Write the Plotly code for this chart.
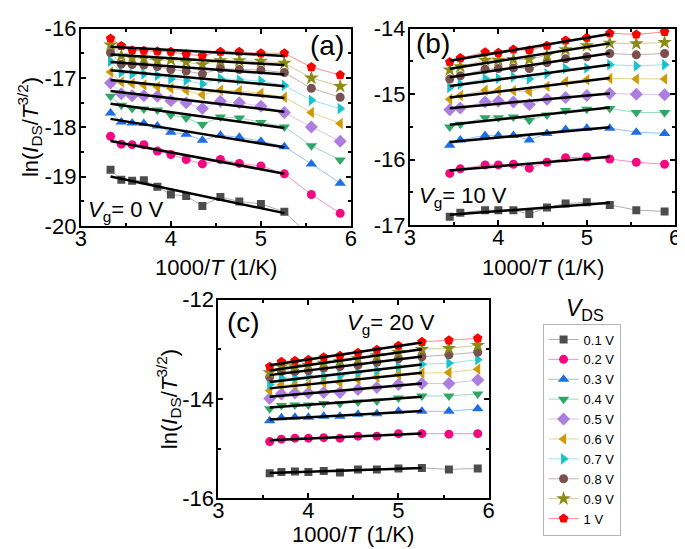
import numpy as np
import plotly.graph_objects as go

# ---------------- data ----------------
x_a = [3.33, 3.45, 3.57, 3.70, 3.85, 4.00, 4.17, 4.35, 4.55, 4.76, 5.00, 5.26, 5.56, 5.88]
x_b = [3.45, 3.57, 3.85, 4.00, 4.17, 4.35, 4.55, 4.76, 5.00, 5.26, 5.56, 5.88]
x_c = [3.57, 3.70, 3.85, 4.00, 4.17, 4.35, 4.55, 4.76, 5.00, 5.26, 5.56, 5.88]

vds_labels = ["0.1 V", "0.2 V", "0.3 V", "0.4 V", "0.5 V", "0.6 V", "0.7 V", "0.8 V", "0.9 V", "1 V"]

# Vg = 0 V
a_01 = [-18.86, -19.06, -19.08, -19.07, -19.20, -19.36, -19.39, -19.59, -19.41, -19.50, -19.55, -19.71, -20.23, -20.60]
a_02 = [-18.18, -18.34, -18.35, -18.35, -18.48, -18.55, -18.65, -18.74, -18.65, -18.73, -18.78, -18.94, -19.36, -19.74]
a_03 = [-17.71, -17.89, -17.91, -17.92, -17.97, -18.10, -18.14, -18.26, -18.16, -18.20, -18.28, -18.39, -18.74, -19.13]
a_04 = [-17.37, -17.55, -17.62, -17.63, -17.65, -17.75, -17.81, -17.94, -17.79, -17.81, -17.90, -17.99, -18.37, -18.66]
a_05 = [-17.10, -17.32, -17.36, -17.36, -17.37, -17.46, -17.50, -17.62, -17.47, -17.50, -17.57, -17.70, -17.99, -18.28]
a_06 = [-16.88, -17.08, -17.11, -17.14, -17.18, -17.21, -17.25, -17.34, -17.25, -17.26, -17.31, -17.39, -17.70, -17.92]
a_07 = [-16.66, -16.89, -16.92, -16.92, -16.95, -17.02, -17.05, -17.12, -17.01, -17.04, -17.06, -17.15, -17.45, -17.62]
a_08 = [-16.49, -16.72, -16.73, -16.74, -16.77, -16.83, -16.86, -16.92, -16.81, -16.83, -16.84, -16.89, -17.21, -17.39]
a_09 = [-16.33, -16.55, -16.59, -16.60, -16.65, -16.63, -16.68, -16.73, -16.65, -16.65, -16.66, -16.70, -17.00, -17.17]
a_10 = [-16.20, -16.35, -16.44, -16.45, -16.46, -16.47, -16.52, -16.55, -16.47, -16.47, -16.50, -16.50, -16.78, -16.94]

# Vg = 10 V
b_01 = [-16.87, -16.81, -16.77, -16.77, -16.77, -16.83, -16.73, -16.67, -16.65, -16.69, -16.77, -16.79]
b_02 = [-16.21, -16.14, -16.08, -16.08, -16.07, -16.13, -16.04, -15.97, -15.96, -15.99, -16.04, -16.07]
b_03 = [-15.78, -15.70, -15.63, -15.63, -15.63, -15.70, -15.60, -15.54, -15.52, -15.52, -15.58, -15.60]
b_04 = [-15.50, -15.46, -15.36, -15.36, -15.35, -15.40, -15.32, -15.25, -15.23, -15.22, -15.28, -15.28]
b_05 = [-15.24, -15.21, -15.12, -15.11, -15.12, -15.16, -15.08, -15.05, -15.02, -14.99, -15.00, -15.01]
b_06 = [-15.08, -15.02, -14.94, -14.94, -14.95, -14.96, -14.88, -14.81, -14.78, -14.76, -14.77, -14.77]
b_07 = [-14.90, -14.85, -14.76, -14.76, -14.74, -14.77, -14.69, -14.61, -14.60, -14.55, -14.57, -14.55]
b_08 = [-14.77, -14.72, -14.62, -14.61, -14.60, -14.61, -14.52, -14.46, -14.43, -14.38, -14.40, -14.38]
b_09 = [-14.63, -14.58, -14.48, -14.48, -14.47, -14.47, -14.41, -14.32, -14.26, -14.22, -14.23, -14.21]
b_10 = [-14.51, -14.45, -14.36, -14.37, -14.32, -14.33, -14.26, -14.18, -14.14, -14.07, -14.09, -14.05]

# Vg = 20 V
c_01 = [-15.50, -15.47, -15.46, -15.47, -15.45, -15.48, -15.42, -15.42, -15.40, -15.39, -15.42, -15.40]
c_02 = [-14.86, -14.81, -14.79, -14.79, -14.78, -14.79, -14.75, -14.75, -14.70, -14.70, -14.71, -14.70]
c_03 = [-14.44, -14.38, -14.37, -14.37, -14.35, -14.35, -14.31, -14.30, -14.25, -14.25, -14.25, -14.20]
c_04 = [-14.20, -14.13, -14.12, -14.12, -14.09, -14.09, -14.06, -14.04, -13.98, -13.94, -13.94, -13.90]
c_05 = [-13.99, -13.90, -13.88, -13.88, -13.87, -13.87, -13.81, -13.77, -13.71, -13.69, -13.69, -13.62]
c_06 = [-13.83, -13.72, -13.72, -13.71, -13.67, -13.67, -13.61, -13.56, -13.51, -13.48, -13.47, -13.40]
c_07 = [-13.71, -13.58, -13.58, -13.54, -13.54, -13.53, -13.47, -13.42, -13.35, -13.30, -13.28, -13.21]
c_08 = [-13.56, -13.45, -13.45, -13.43, -13.38, -13.35, -13.32, -13.26, -13.19, -13.15, -13.11, -13.06]
c_09 = [-13.47, -13.35, -13.35, -13.32, -13.28, -13.24, -13.19, -13.13, -13.06, -13.00, -12.98, -12.92]
c_10 = [-13.35, -13.25, -13.23, -13.21, -13.16, -13.13, -13.07, -13.01, -12.93, -12.85, -12.82, -12.78]

fit_xmax = 5.27  # fits use the points up to 190 K

# ---------------- styles ----------------
colors = ["#4d4d4d", "#f5077f", "#1d6fe3", "#2fa866", "#ab7ee0",
          "#cf9a05", "#18c4c9", "#7a5050", "#8b8b16", "#ff0000"]
symbols = ["square", "circle", "triangle-up", "triangle-down", "diamond",
           "triangle-left", "triangle-right", "circle", "star", "pentagon"]
sizes = [8, 9, 10, 10, 10, 10, 10, 9, 11, 10]


def pale(hexc, a=0.45):
    h = hexc.lstrip("#")
    r, g, b = int(h[0:2], 16), int(h[2:4], 16), int(h[4:6], 16)
    return f"rgba({r},{g},{b},{a})"


FONT = "Liberation Sans, Arial, sans-serif"
fig = go.Figure()

panels = [
    ("x", "y", x_a, [a_01, a_02, a_03, a_04, a_05, a_06, a_07, a_08, a_09, a_10], True),
    ("x2", "y2", x_b, [b_01, b_02, b_03, b_04, b_05, b_06, b_07, b_08, b_09, b_10], False),
    ("x3", "y3", x_c, [c_01, c_02, c_03, c_04, c_05, c_06, c_07, c_08, c_09, c_10], False),
]

for xa, ya, xs, series, show in panels:
    for i, ys in enumerate(series):
        fig.add_trace(go.Scatter(
            x=xs, y=ys, xaxis=xa, yaxis=ya, mode="lines+markers",
            name=vds_labels[i], showlegend=show, legendgroup=vds_labels[i],
            line=dict(color=pale(colors[i]), width=1),
            marker=dict(symbol=symbols[i], size=sizes[i], color=colors[i], line=dict(width=0)),
        ))
    for i, ys in enumerate(series):
        xf = np.array([x for x in xs if x <= fit_xmax])
        yf = np.array(ys[:len(xf)])
        p = np.polyfit(xf, yf, 1)
        xe = np.array([xf[0], xf[-1]])
        fig.add_trace(go.Scatter(
            x=xe, y=np.polyval(p, xe), xaxis=xa, yaxis=ya, mode="lines",
            showlegend=False, hoverinfo="skip",
            line=dict(color="black", width=2.5),
        ))

W, H = 685, 549


def px_x(v):
    return v / W


def px_y(v):
    return 1 - v / H


axis_common = dict(
    showline=True, linecolor="black", linewidth=2, mirror="allticks",
    ticks="inside", ticklen=5, tickwidth=1.5, tickcolor="black",
    showgrid=False, zeroline=False, ticklabeloverflow="allow",
    tickfont=dict(family=FONT, size=22, color="black"),
)


def xaxis(dom, anchor):
    return dict(axis_common, domain=dom, anchor=anchor, range=[3, 6],
                tickmode="array", tickvals=[3, 4, 5, 6], ticktext=["3", "4", "5", "6"],
                ticklabelstandoff=-9,
                minor=dict(ticks="inside", ticklen=3, tickwidth=1.5, tickcolor="black",
                           tickmode="array", tickvals=[3.5, 4.5, 5.5]))


def yaxis(dom, anchor, lo, hi, step, mstep):
    vals = list(np.arange(lo, hi + 0.001, step))
    mvals = [v for v in np.arange(lo, hi + 0.001, mstep) if all(abs(v - t) > 1e-6 for t in vals)]
    return dict(axis_common, domain=dom, anchor=anchor, range=[lo, hi],
                tickmode="array", tickvals=vals, ticktext=["-%d" % abs(round(v)) for v in vals],
                ticklabelstandoff=-2,
                minor=dict(ticks="inside", ticklen=3, tickwidth=1.5, tickcolor="black",
                           tickmode="array", tickvals=mvals))


fig.update_layout(
    width=W, height=H, margin=dict(l=0, r=0, t=0, b=0),
    paper_bgcolor="white", plot_bgcolor="white",
    font=dict(family=FONT, color="black"),
    xaxis=xaxis([px_x(68), px_x(343)], "y"),
    yaxis=yaxis([px_y(216), px_y(9)], "x", -20, -16, 1, 0.5),
    xaxis2=xaxis([px_x(403), px_x(673)], "y2"),
    yaxis2=yaxis([px_y(215), px_y(9)], "x2", -17, -14, 1, 0.5),
    xaxis3=xaxis([px_x(208), px_x(483)], "y3"),
    yaxis3=yaxis([px_y(501), px_y(293)], "x3", -16, -12, 2, 1),
    legend=dict(x=px_x(538), y=px_y(318), xanchor="left", yanchor="top",
                bordercolor="#b4b4b4", borderwidth=1, bgcolor="white",
                font=dict(family=FONT, size=13, color="black"),
                tracegroupgap=0, itemwidth=30),
    showlegend=True,
)

ann = []
def add_text(x, y, text, size, xanchor="center", yanchor="middle", angle=0):
    ann.append(dict(x=x, y=y, xref="paper", yref="paper", text=text, showarrow=False,
                    xanchor=xanchor, yanchor=yanchor, textangle=angle,
                    font=dict(family=FONT, size=size, color="black")))

xtitle = "1000/<i>T</i> (1/K)"
ytitle = "ln(<i>I</i><sub>DS</sub>/<i>T</i><sup>3/2</sup>)"
add_text(px_x(205.5), px_y(259), xtitle, 22)
add_text(px_x(538), px_y(259), xtitle, 22)
add_text(px_x(345.5), px_y(539), xtitle, 22)
add_text(px_x(16), px_y(112.5), ytitle, 22, angle=-90)
add_text(px_x(158), px_y(397), ytitle, 22, angle=-90)
add_text(px_x(318.5), px_y(26.5), "(a)", 28)
add_text(px_x(426.5), px_y(25), "(b)", 28)
add_text(px_x(234), px_y(316.5), "(c)", 28)
add_text(px_x(73), px_y(200), "<i>V</i><sub>g</sub>= 0 V", 22, xanchor="left")
add_text(px_x(410), px_y(185), "<i>V</i><sub>g</sub>= 10 V", 22, xanchor="left")
add_text(px_x(337), px_y(319), "<i>V</i><sub>g</sub>= 20 V", 22, xanchor="left")
add_text(px_x(581), px_y(303), "<i>V</i><sub>DS</sub>", 23)
fig.update_layout(annotations=ann)

fig.write_html("out.html")
